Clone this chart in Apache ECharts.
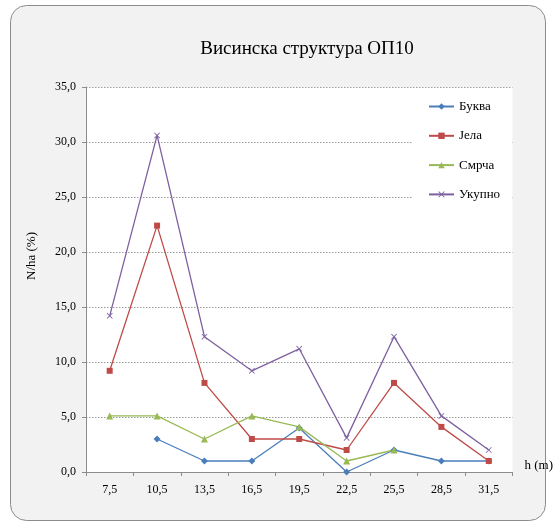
<!DOCTYPE html>
<html><head><meta charset="utf-8">
<script src="https://cdn.jsdelivr.net/npm/echarts@6/dist/echarts.min.js"></script>
<style>html,body{margin:0;padding:0;background:#fff}#c{width:556px;height:531px}</style>
</head><body><div id="c"></div>
<script>
const categories = ['7,5','10,5','13,5','16,5','19,5','22,5','25,5','28,5','31,5'];
const bukva   = [null, 3.0, 1.0, 1.0, 4.0, 0.0, 2.0, 1.0, 1.0];
const jela    = [9.2, 22.4, 8.1, 3.0, 3.0, 2.0, 8.1, 4.1, 1.0];
const smrca   = [5.1, 5.1, 3.0, 5.1, 4.1, 1.0, 2.0, null, null];
const ukupno  = [14.2, 30.6, 12.3, 9.2, 11.2, 3.1, 12.3, 5.1, 2.0];
const seriesNames = ['Буква','Јела','Смрча','Укупно'];
const FONT = "'Liberation Serif', 'DejaVu Serif', serif";
const xSym = 'path://M0,1 L1,0 L5,4 L9,0 L10,1 L6,5 L10,9 L9,10 L5,6 L1,10 L0,9 L4,5 Z';

const chart = echarts.init(document.getElementById('c'), null, {renderer:'canvas'});
function mk(name, data, color, symbol, size){
  return {name, type:'line', data, symbol, symbolSize:size, showSymbol:true,
    lineStyle:{color, width:1.3}, itemStyle:{color}, connectNulls:false, animation:false};
}
chart.setOption({
  animation:false,
  backgroundColor:'#ffffff',
  graphic:[
    {type:'rect', z:-10, shape:{x:10.5,y:5.5,width:535,height:515,r:16},
      style:{fill:'#f2f2f2', stroke:'#8c8c8c', lineWidth:1}},
    {type:'text', x:32, y:256, rotation:Math.PI/2,
      style:{text:'N/ha (%)', align:'center', verticalAlign:'middle',
        font:"13px 'Liberation Serif', serif", fill:'#000'}}
  ],
  title:{text:'Висинска структура ОП10', left:302, top:35, textAlign:'center',
    textStyle:{fontFamily:FONT, fontSize:19, fontWeight:'normal', color:'#000'}},
  legend:{orient:'vertical', left:413, top:90, padding:[10,12,14,15], backgroundColor:'#ffffff',
    itemWidth:25, itemHeight:8, itemGap:16.3,
    textStyle:{fontFamily:FONT, fontSize:13, color:'#000'}, data:seriesNames},
  grid:{left:86, right:43.5, top:87, bottom:59, show:true, backgroundColor:'#ffffff', borderWidth:0},
  xAxis:{type:'category', data:categories, boundaryGap:true,
    name:'h (m)', nameLocation:'end', nameGap:12,
    nameTextStyle:{fontFamily:FONT, fontSize:13, color:'#000', verticalAlign:'bottom'},
    axisLine:{lineStyle:{color:'#8c8c8c', width:1}},
    axisTick:{show:true, inside:false, length:4, alignWithLabel:false, lineStyle:{color:'#8c8c8c'}},
    axisLabel:{fontFamily:FONT, fontSize:12, color:'#000', margin:12},
    splitLine:{show:false}},
  yAxis:{type:'value', min:0, max:35, interval:5,
    axisLine:{show:true, lineStyle:{color:'#8c8c8c', width:1}},
    axisTick:{show:true, length:4, lineStyle:{color:'#8c8c8c'}},
    axisLabel:{fontFamily:FONT, fontSize:12, color:'#000', margin:10,
      formatter:v=>v.toFixed(1).replace('.',',')},
    splitLine:{show:true, lineStyle:{color:'#9a9a9a', type:[1.5,1.5], width:1}}},
  series:[
    mk('Буква', bukva, '#4a7ebb', 'diamond', 7),
    mk('Јела', jela, '#be4b48', 'rect', 6),
    mk('Смрча', smrca, '#98b954', 'triangle', 7),
    mk('Укупно', ukupno, '#7d60a0', xSym, 6)
  ]
});
</script></body></html>
